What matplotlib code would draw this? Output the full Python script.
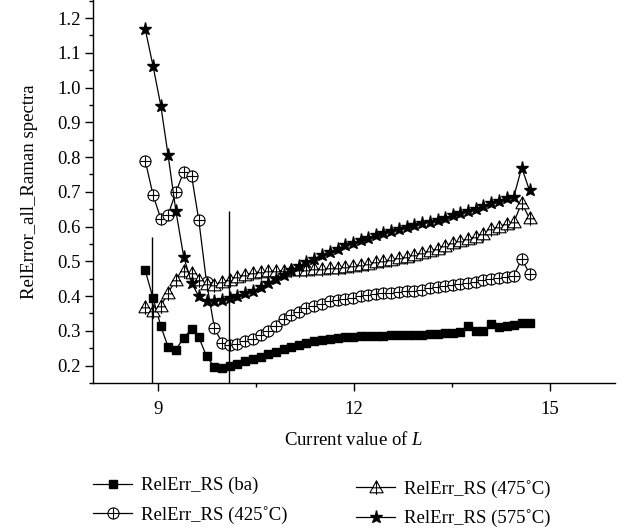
import matplotlib
matplotlib.use("Agg")
import matplotlib.pyplot as plt
from matplotlib.path import Path
from matplotlib.ticker import MultipleLocator

plt.rcParams["font.family"] = ["Liberation Serif", "DejaVu Serif"]
plt.rcParams["mathtext.fontset"] = "custom"
plt.rcParams["mathtext.rm"] = "Liberation Serif"
plt.rcParams["mathtext.it"] = "Liberation Serif:italic"

# Current value of L (sampling grid)
L = [8.80, 8.92, 9.04, 9.15, 9.27, 9.39, 9.51, 9.62, 9.74, 9.86,
     9.98, 10.10, 10.21, 10.33, 10.45, 10.57, 10.68, 10.80, 10.92, 11.04,
     11.16, 11.27, 11.39, 11.51, 11.63, 11.75, 11.86, 11.98, 12.10, 12.22,
     12.33, 12.45, 12.57, 12.69, 12.81, 12.92, 13.04, 13.16, 13.28, 13.39,
     13.51, 13.63, 13.75, 13.87, 13.98, 14.10, 14.22, 14.34, 14.45, 14.57,
     14.69]

rs_ba = [0.474, 0.394, 0.313, 0.254, 0.246, 0.280, 0.305, 0.282, 0.227, 0.196,
         0.193, 0.198, 0.205, 0.212, 0.219, 0.226, 0.233, 0.240, 0.247, 0.253,
         0.259, 0.265, 0.270, 0.274, 0.277, 0.280, 0.282, 0.283, 0.284, 0.285,
         0.286, 0.286, 0.287, 0.287, 0.288, 0.288, 0.289, 0.290, 0.291, 0.293,
         0.295, 0.298, 0.313, 0.300, 0.300, 0.320, 0.310, 0.314, 0.318, 0.322,
         0.322]

rs_425 = [0.790, 0.691, 0.622, 0.634, 0.699, 0.758, 0.747, 0.620, 0.440, 0.308,
          0.265, 0.260, 0.263, 0.270, 0.278, 0.287, 0.299, 0.313, 0.333, 0.345,
          0.355, 0.365, 0.372, 0.378, 0.385, 0.389, 0.393, 0.396, 0.399, 0.402,
          0.405, 0.408, 0.410, 0.412, 0.414, 0.416, 0.419, 0.422, 0.425, 0.428,
          0.431, 0.435, 0.438, 0.442, 0.445, 0.449, 0.453, 0.456, 0.459, 0.507,
          0.465]

rs_475 = [0.370, 0.356, 0.372, 0.409, 0.447, 0.471, 0.466, 0.447, 0.434, 0.433,
          0.440, 0.447, 0.456, 0.462, 0.467, 0.470, 0.472, 0.473, 0.473, 0.474,
          0.475, 0.476, 0.477, 0.478, 0.480, 0.482, 0.484, 0.487, 0.490, 0.493,
          0.497, 0.501, 0.505, 0.509, 0.513, 0.518, 0.523, 0.529, 0.537, 0.545,
          0.552, 0.558, 0.565, 0.571, 0.580, 0.592, 0.600, 0.608, 0.613, 0.668,
          0.624]

rs_575 = [1.168, 1.062, 0.947, 0.806, 0.645, 0.513, 0.438, 0.400, 0.385, 0.386,
          0.390, 0.395, 0.400, 0.408, 0.416, 0.425, 0.437, 0.450, 0.462, 0.475,
          0.487, 0.498, 0.508, 0.518, 0.528, 0.537, 0.546, 0.554, 0.561, 0.568,
          0.575, 0.581, 0.587, 0.593, 0.599, 0.604, 0.609, 0.614, 0.620, 0.626,
          0.632, 0.638, 0.645, 0.652, 0.659, 0.667, 0.675, 0.682, 0.686, 0.770,
          0.704]

labels = ["RelErr_RS (ba)", "RelErr_RS (425˚C)", "RelErr_RS (475˚C)", "RelErr_RS (575˚C)"]

# vertical guide lines: positions and heights
guide_x = [8.90, 10.08]
guide_top = [0.571, 0.646]

# circle with a plus inside
M, LT = Path.MOVETO, Path.LINETO
circ_plus = Path.make_compound_path(
    Path.unit_circle(),
    Path([(-1, 0), (1, 0)], [M, LT]),
    Path([(0, -1), (0, 1)], [M, LT]),
)
# triangle with a cross through it
tri_cross = Path.make_compound_path(
    Path([(-1, -0.8), (1, -0.8), (0, 1), (-1, -0.8)], [M, LT, LT, LT]),
    Path([(0, 1), (0, -1.1)], [M, LT]),
    Path([(-0.6, -0.05), (0.6, -0.05)], [M, LT]),
)

fig = plt.figure(figsize=(6.26, 5.31), dpi=100)
ax = fig.add_axes([0.1486, 0.2787, 0.8338, 0.7213])

lw = 0.9
styles = [
    dict(marker="s", ms=6.2, mfc="black", mec="black"),
    dict(marker=circ_plus, ms=8.0, mfc="white", mec="black", mew=0.8),
    dict(marker=tri_cross, ms=10.5, mfc="white", mec="black", mew=0.8),
    dict(marker="*", ms=9.5, mfc="black", mec="black"),
]
series = [rs_ba, rs_425, rs_475, rs_575]
handles = []
for ys, st, lab in zip(series, styles, labels):
    h, = ax.plot(L, ys, color="black", lw=lw, label=lab, **st)
    handles.append(h)

ax.vlines(guide_x, 0.15, guide_top, color="black", lw=1.0)

ax.set_xlim(8.0, 16.0)
ax.set_ylim(0.15, 1.252)
ax.xaxis.set_minor_locator(MultipleLocator(1.5))
ax.yaxis.set_minor_locator(MultipleLocator(0.05))
ax.set_xticks([9, 12, 15])
ax.set_yticks([0.2, 0.3, 0.4, 0.5, 0.6, 0.7, 0.8, 0.9, 1.0, 1.1, 1.2])
ax.set_yticklabels(["0.2", "0.3", "0.4", "0.5", "0.6", "0.7", "0.8", "0.9", "1.0", "1.1", "1.2"])

for s in ("top", "right"):
    ax.spines[s].set_visible(False)
for s in ("left", "bottom"):
    ax.spines[s].set_linewidth(1.0)

ax.tick_params(which="major", direction="out", length=6, width=1.0,
               labelsize=13.5, pad=3)
ax.tick_params(which="minor", direction="out", length=3, width=1.0)
ax.tick_params(axis="x", which="major", pad=7)

ax.set_xlabel("Current value of $L$", fontsize=13.5, labelpad=9)
ax.set_ylabel("RelError_all_Raman spectra", fontsize=13.5, labelpad=14)

leg_kw = dict(frameon=False, fontsize=13.5, handlelength=2.1, handletextpad=0.45,
              labelspacing=0.6, borderpad=0, borderaxespad=0,
              bbox_transform=fig.transFigure, loc="upper left")
fig.legend(handles[:2], labels[:2], bbox_to_anchor=(93 / 626, 1 - 477 / 531), **leg_kw)
fig.legend(handles[2:], labels[2:], bbox_to_anchor=(356 / 626, 1 - 480 / 531), **leg_kw)

fig.savefig("out.png", dpi=100)
